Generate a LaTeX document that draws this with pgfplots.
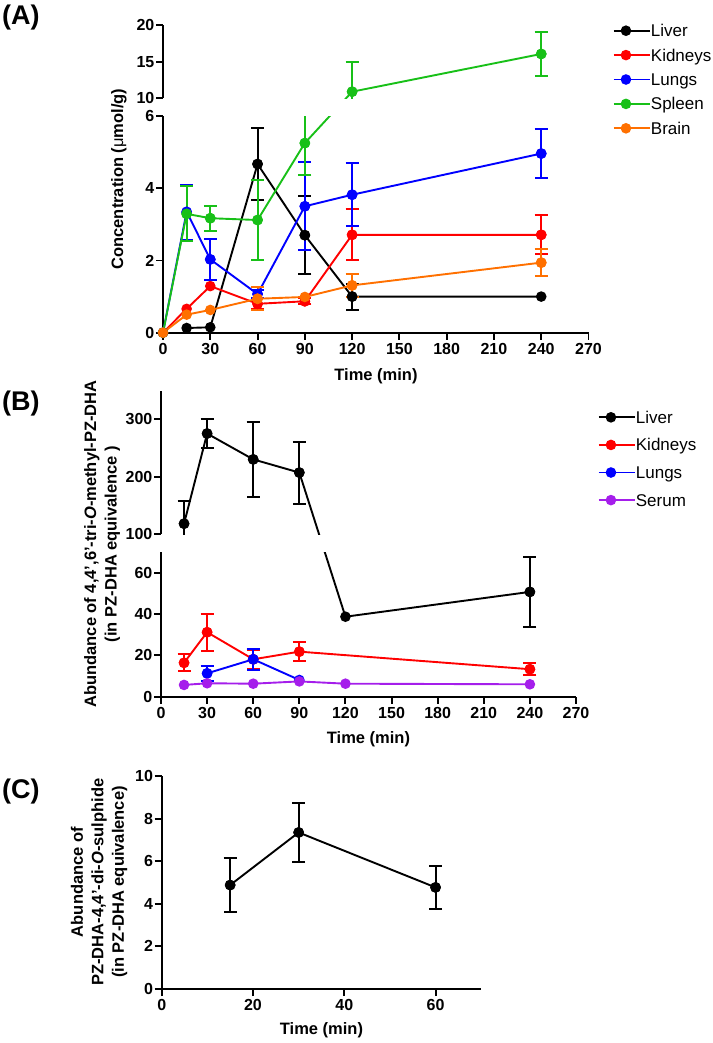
\documentclass[border=0pt]{standalone}
\usepackage{pgfplots}
\pgfplotsset{compat=1.18}
\usepackage{fontspec}
\setmainfont{Liberation Sans}
\definecolor{cgreen}{RGB}{24,192,24}
\definecolor{corange}{RGB}{255,112,0}
\definecolor{cpurple}{RGB}{165,30,235}
\definecolor{cred}{RGB}{255,0,0}
\definecolor{cblue}{RGB}{0,0,255}
\pgfplotsset{
  every error bar/.style={line width=2pt},
  prism/.style={
    scale only axis,
    /pgf/number format/assume math mode=true,
    tick label style={font=\fontsize{16}{16}\selectfont\bfseries},
    yticklabel style={inner sep=1.5pt},
    axis line style={line width=1.9pt},
    tick style={line width=1.9pt, black},
    major tick length=7pt,
    tick align=outside,
    every axis plot/.append style={line width=1.9pt, mark=*, mark size=4.3pt, mark options={solid}},
  },
  ebar/.style={forget plot, only marks, mark=none, line width=2pt, error bars/.cd, y dir=both, y explicit,
    error bar style={line width=2pt, solid}, error mark options={rotate=90, mark size=6.5pt, line width=2pt}},
  leg/.style={
    legend style={draw=none, fill=none, inner sep=0pt, outer sep=0pt, anchor=north west,
      font=\fontsize{17}{17}\selectfont, cells={anchor=base west},
      nodes={inner sep=0pt, anchor=base west, text height=12pt, text depth=4pt}},
    legend image code/.code={\draw[mark repeat=2, mark phase=2, ##1] plot coordinates {(0pt,6pt)(12pt,6pt)(24pt,6pt)}; \path (0pt,6pt) -- (36pt,6pt);},
  },
}
\begin{document}
\begin{tikzpicture}
\path[use as bounding box] (0pt,0pt) rectangle (712pt,-1043pt);
%================ Panel A upper
\begin{axis}[prism, at={(163pt,-98.3pt)}, anchor=south west, width=425.5pt, height=73.3pt,
  xmin=0, xmax=270, ymin=10, ymax=20, axis x line=none, axis y line*=left, ytick={10,15,20}]
\addplot[color=cgreen, ebar] table[x=t, y=v, y error=e] {
t v e
120 10.9 4.1
240 16.05 2.95
};
\addplot[color=cgreen, no marks, forget plot] coordinates {(90,3.89) (120,10.9)};
\addplot[color=cgreen] coordinates {(120,10.9) (240,16.05)};
\end{axis}
%================ Panel A lower
\begin{axis}[prism, leg, at={(163pt,-332.7pt)}, anchor=south west, width=425.5pt, height=216.7pt,
  xmin=0, xmax=270, ymin=0, ymax=6, axis x line*=bottom, axis y line*=left,
  xtick={0,30,...,270}, ytick={0,2,4,6},
  legend style={at={(1.0576,1.4213)}, row sep=8.4pt}]
% Liver
\addplot[color=black, ebar] table[x=t, y=v, y error=e] {
t v e
60 4.67 1.0
90 2.7 1.08
120 1.0 0.36
};
\addplot[color=black] coordinates {(15,0.13) (30,0.15) (60,4.67) (90,2.7) (120,1.0) (240,1.0)};
\addlegendentry{Liver}
% Kidneys
\addplot[color=cred, ebar] table[x=t, y=v, y error=e] {
t v e
60 0.8 0.15
90 0.87 0.08
120 2.71 0.71
240 2.71 0.54
};
\addplot[color=cred] coordinates {(0,0) (15,0.66) (30,1.29) (60,0.8) (90,0.87) (120,2.71) (240,2.71)};
\addlegendentry{Kidneys}
% Lungs
\addplot[color=cblue, ebar] table[x=t, y=v, y error=e] {
t v e
15 3.33 0.75
30 2.03 0.56
60 1.07 0.12
90 3.5 1.22
120 3.82 0.87
240 4.96 0.68
};
\addplot[color=cblue] coordinates {(0,0) (15,3.35) (30,2.03) (60,1.07) (90,3.5) (120,3.82) (240,4.96)};
\addlegendentry{Lungs}
% Spleen
\addplot[color=cgreen, ebar] table[x=t, y=v, y error=e] {
t v e
15 3.29 0.76
30 3.17 0.35
60 3.12 1.12
90 5.25 0.88
};
\addplot[color=cgreen, no marks, forget plot] coordinates {(90,5.25) (120,6.673)};
\addplot[color=cgreen] coordinates {(0,0) (15,3.29) (30,3.17) (60,3.12) (90,5.25)};
\addlegendentry{Spleen}
% Brain
\addplot[color=corange, ebar] table[x=t, y=v, y error=e] {
t v e
60 0.94 0.32
120 1.31 0.32
240 1.94 0.37
};
\addplot[color=corange] coordinates {(0,0) (15,0.5) (30,0.63) (60,0.94) (90,0.99) (120,1.31) (240,1.94)};
\addlegendentry{Brain}
\end{axis}
%================ Panel B upper
\begin{axis}[prism, at={(161pt,-534pt)}, anchor=south west, width=415pt, height=143.5pt,
  xmin=0, xmax=270, ymin=100, ymax=350, axis x line=none, axis y line*=left, ytick={100,200,300}]
\addplot[color=black, ebar] table[x=t, y=v, y error=e] {
t v e
15 118 40
30 275 26
60 230 65
90 207 54
};
\addplot[color=black, no marks, forget plot] coordinates {(90,207) (120,-44.1)};
\addplot[color=black] coordinates {(15,118) (30,275) (60,230) (90,207)};
\end{axis}
%================ Panel B lower
\begin{axis}[prism, leg, at={(161pt,-696.7pt)}, anchor=south west, width=415pt, height=144.7pt,
  xmin=0, xmax=270, ymin=0, ymax=70, axis x line*=bottom, axis y line*=left,
  xtick={0,30,...,270}, ytick={0,20,40,60},
  legend style={at={(1.053,1.9723)}, row sep=11.6pt}]
% Liver
\addplot[color=black, ebar] table[x=t, y=v, y error=e] {
t v e
240 50.7 16.8
};
\addplot[color=black, no marks, forget plot] coordinates {(90,108.4) (120,38.7)};
\addplot[color=black] coordinates {(120,38.7) (240,50.7)};
\addlegendentry{Liver}
% Kidneys
\addplot[color=cred, ebar] table[x=t, y=v, y error=e] {
t v e
15 16.4 4.2
30 31.2 9.0
60 18.1 4.5
90 21.8 4.5
240 13.3 2.9
};
\addplot[color=cred] coordinates {(15,16.4) (30,31.2) (60,18.1) (90,21.8) (240,13.3)};
\addlegendentry{Kidneys}
% Lungs
\addplot[color=cblue, ebar] table[x=t, y=v, y error=e] {
t v e
30 11.3 3.5
60 18.1 5.2
};
\addplot[color=cblue] coordinates {(30,11.3) (60,18.1) (90,8.1)};
\addlegendentry{Lungs}
% Serum
\addplot[color=cpurple] coordinates {(15,5.7) (30,6.5) (60,6.3) (90,7.4) (120,6.3) (240,6.0)};
\addlegendentry{Serum}
\end{axis}
%================ Panel C
\begin{axis}[prism, at={(161.7pt,-989pt)}, anchor=south west, width=319.5pt, height=213pt,
  xmin=0, xmax=70, ymin=0, ymax=10, axis x line*=bottom, axis y line*=left,
  xtick={0,20,40,60}, ytick={0,2,...,10}]
\addplot[color=black, ebar] table[x=t, y=v, y error=e] {
t v e
15 4.88 1.28
30 7.35 1.4
60 4.77 1.0
};
\addplot[color=black] coordinates {(15,4.88) (30,7.35) (60,4.77)};
\end{axis}
%================ Labels
\begin{scope}[every node/.style={inner sep=0pt}]
\node[anchor=west, font=\fontsize{27}{27}\selectfont\bfseries] at (2pt,-17.5pt) {(A)};
\node[anchor=west, font=\fontsize{27}{27}\selectfont\bfseries] at (2pt,-404pt) {(B)};
\node[anchor=west, font=\fontsize{27}{27}\selectfont\bfseries] at (2pt,-792pt) {(C)};
\node[rotate=90, font=\fontsize{16.5}{20.5}\selectfont\bfseries] at (119pt,-179pt) {Concentration (\textmd{μ}mol/g)};
\node[rotate=90, align=center, font=\fontsize{16.5}{20.5}\selectfont\bfseries] at (102pt,-544pt) {Abundance of 4,4',6'-tri-\textit{O}-methyl-PZ-DHA\\(in PZ-DHA equivalence )};
\node[rotate=90, align=center, font=\fontsize{16.5}{20.5}\selectfont\bfseries] at (99pt,-882pt) {Abundance of\\PZ-DHA-4,4'-di-\textit{O}-sulphide\\(in PZ-DHA equivalence)};
\node[font=\fontsize{16.5}{16.5}\selectfont\bfseries] at (376pt,-376.7pt) {Time (min)};
\node[font=\fontsize{16.5}{16.5}\selectfont\bfseries] at (368.5pt,-739pt) {Time (min)};
\node[font=\fontsize{16.5}{16.5}\selectfont\bfseries] at (321.5pt,-1030pt) {Time (min)};
\end{scope}
\end{tikzpicture}
\end{document}
